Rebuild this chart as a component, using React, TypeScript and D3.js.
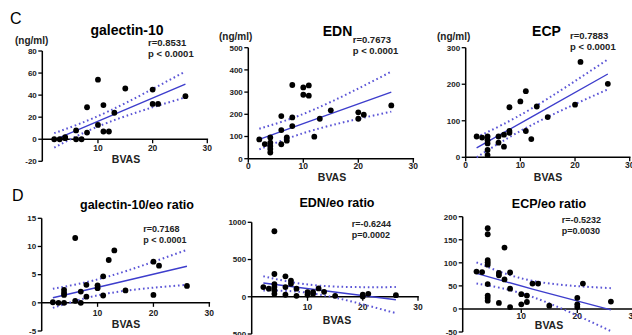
import * as d3 from "d3";
import { useEffect, useRef } from "react";

// BVAS vs marker values
const galBvas = [2, 3, 4, 4, 6, 6, 7, 8, 8, 10, 10, 11, 11, 12, 13, 15, 20, 20, 21, 26];
const galVals = [0, 0, 1, 2, 0, 8, 0, 6, 29, 54, 13, 31, 7, 7, 24, 46, 45, 32, 32, 39];

const ednBvas = [2, 3, 4, 4, 4, 4, 4, 6, 6, 6, 7, 7, 8, 8, 8, 10, 10, 11, 11, 12, 13, 15, 20, 20, 21, 26];
const ednVals = [87, 66, 96, 72, 57, 44, 28, 192, 129, 65, 96, 81, 332, 186, 147, 321, 288, 330, 284, 99, 180, 218, 209, 180, 198, 240];

const ecpBvas = [2, 3, 4, 4, 4, 4, 4, 6, 6, 7, 7, 8, 8, 8, 10, 11, 11, 12, 13, 15, 20, 21, 26];
const ecpVals = [57, 54, 57, 47, 38, 20, 6, 57, 40, 29, 62, 72, 67, 137, 153, 181, 72, 50, 139, 110, 144, 261, 201];

const galEoBvas = [2, 3, 4, 4, 4, 4, 6, 6, 7, 7, 8, 8, 10, 10, 11, 11, 12, 13, 15, 20, 20, 21, 26];
const galEoVals = [0.1, 0, 0, 1.4, 1.8, 2.3, 11.5, 0.35, 2.0, 0, 3.2, 1.1, 2.6, 3.1, 4.7, 1.3, 7.6, 9.3, 2.2, 7.3, 1.4, 6.6, 3.0];

const ednEoBvas = [2, 3, 4, 4, 4, 4, 4, 4, 6, 6, 6, 7, 7, 8, 8, 10, 10, 11, 11, 12, 13, 15, 20, 20, 21, 26];
const ednEoVals = [130, 108, 880, 306, 171, 130, 85, 40, 275, 130, 27, 216, 175, 108, 13, 63, 27, 63, 40, 112, 67, 13, 27, 5, 40, 22];

const ecpEoBvas = [2, 3, 4, 4, 4, 4, 4, 4, 4, 4, 4, 6, 6, 6, 7, 7, 8, 8, 8, 10, 10, 11, 11, 12, 13, 15, 20, 20, 20, 21, 26];
const ecpEoVals = [81, 80, 175, 162, 106, 101, 96, 54, 29, 24, 18, 78, 73, 13, 133, 64, 79, 44, 4, 32, 10, 29, 15, 55, 55, 7, 24, 10, 4, 55, 16];

// regression line and 95% band, read at these BVAS values
const bandBvas = [2, 12, 26];
const galFit = [-0.5, 20.5, 50];
const galUpper = [5.5, 25.5, 61.5];
const galLower = [-7.5, 15.5, 38];
const ednFit = [87, 176, 300];
const ednUpper = [135, 222, 392];
const ednLower = [42, 130, 212];
const ecpFit = [26, 110, 228];
const ecpUpper = [55, 133, 268];
const ecpLower = [0, 88, 186];
const galEoFit = [0.9, 3.2, 6.5];
const galEoUpper = [2.5, 4.7, 9.4];
const galEoLower = [-0.9, 1.7, 3.2];
const ednEoFit = [185, 91, -40];
const ednEoUpper = [275, 150, 130];
const ednEoLower = [85, 32, -220];
const ecpEoFit = [77, 43, -2];
const ecpEoUpper = [101, 61, 45];
const ecpEoLower = [55, 26, -48];

const galTicks = [-20, 0, 20, 40, 60, 80];
const ednTicks = [0, 100, 200, 300, 400, 500];
const ecpTicks = [0, 100, 200, 300];
const galEoTicks = [-5, 0, 5, 10, 15];
const ednEoTicks = [-500, 0, 500, 1000];
const ecpEoTicks = [-50, 0, 50, 100, 150, 200];

const titles = ["galectin-10", "EDN", "ECP", "galectin-10/eo ratio", "EDN/eo ratio", "ECP/eo ratio"];
const rTexts = ["r=0.8531", "r=0.7673", "r=0.7883", "r=0.7168", "r=-0.6244", "r=-0.5232"];
const pTexts = ["p < 0.0001", "p < 0.0001", "p < 0.0001", "p < 0.0001", "p=0.0002", "p=0.0030"];

interface Panel {
  title: string;
  r: string;
  p: string;
  xs: number[];
  ys: number[];
  fit: number[];
  upper: number[];
  lower: number[];
  yTicks: number[];
  xTicks: number[];
  unit?: string;
  // layout
  axisX: number;
  x0: number;
  x1: number;
  yTop: number;
  yBot: number;
  titleX: number;
  titleY: number;
  titleSize: number;
  statX: number;
  statY: number;
  statSize: number;
  unitX?: number;
  unitY?: number;
  xLabY: number;
  bvasX: number;
  bvasY: number;
}

const FONT = "'Liberation Sans', Arial, sans-serif";

const panels: Panel[] = [
  {
    title: titles[0], r: rTexts[0], p: pTexts[0], xs: galBvas, ys: galVals,
    fit: galFit, upper: galUpper, lower: galLower, yTicks: galTicks, xTicks: [10, 20, 30],
    unit: "(ng/ml)", axisX: 42.3, x0: 43.3, x1: 207.3, yTop: 51, yBot: 161.3,
    titleX: 127, titleY: 35, titleSize: 14, statX: 148, statY: 46, statSize: 9.5,
    unitX: 15, unitY: 44, xLabY: 151, bvasX: 126, bvasY: 163,
  },
  {
    title: titles[1], r: rTexts[1], p: pTexts[1], xs: ednBvas, ys: ednVals,
    fit: ednFit, upper: ednUpper, lower: ednLower, yTicks: ednTicks, xTicks: [0, 10, 20, 30],
    unit: "(ng/ml)", axisX: 248.3, x0: 248.3, x1: 413.3, yTop: 47.7, yBot: 158.7,
    titleX: 337.5, titleY: 36, titleSize: 14, statX: 352.7, statY: 43, statSize: 9.5,
    unitX: 219, unitY: 40, xLabY: 168.5, bvasX: 332, bvasY: 181,
  },
  {
    title: titles[2], r: rTexts[2], p: pTexts[2], xs: ecpBvas, ys: ecpVals,
    fit: ecpFit, upper: ecpUpper, lower: ecpLower, yTicks: ecpTicks, xTicks: [0, 10, 20, 30],
    unit: "(ng/ml)", axisX: 465.7, x0: 465.7, x1: 629.7, yTop: 47.7, yBot: 157.3,
    titleX: 546.5, titleY: 36, titleSize: 14, statX: 570, statY: 39, statSize: 9.5,
    unitX: 437, unitY: 40, xLabY: 168, bvasX: 548, bvasY: 181,
  },
  {
    title: titles[3], r: rTexts[3], p: pTexts[3], xs: galEoBvas, ys: galEoVals,
    fit: galEoFit, upper: galEoUpper, lower: galEoLower, yTicks: galEoTicks, xTicks: [10, 20, 30],
    axisX: 41.7, x0: 41.7, x1: 209.3, yTop: 218.3, yBot: 331,
    titleX: 137, titleY: 209, titleSize: 12.5, statX: 143.3, statY: 232, statSize: 9,
    xLabY: 316, bvasX: 126, bvasY: 328,
  },
  {
    title: titles[4], r: rTexts[4], p: pTexts[4], xs: ednEoBvas, ys: ednEoVals,
    fit: ednEoFit, upper: ednEoUpper, lower: ednEoLower, yTicks: ednEoTicks, xTicks: [10, 20, 30],
    axisX: 251.7, x0: 252.3, x1: 418, yTop: 222.3, yBot: 334,
    titleX: 337, titleY: 207, titleSize: 12.5, statX: 351.7, statY: 227, statSize: 9,
    xLabY: 310, bvasX: 337, bvasY: 324,
  },
  {
    title: titles[5], r: rTexts[5], p: pTexts[5], xs: ecpEoBvas, ys: ecpEoVals,
    fit: ecpEoFit, upper: ecpEoUpper, lower: ecpEoLower, yTicks: ecpEoTicks, xTicks: [10, 20, 30],
    axisX: 462.7, x0: 465.3, x1: 633.3, yTop: 216.7, yBot: 332,
    titleX: 549, titleY: 208, titleSize: 12.5, statX: 561.7, statY: 223, statSize: 9,
    xLabY: 319, bvasX: 549, bvasY: 329,
  },
];

function drawPanel(g: d3.Selection<SVGGElement, unknown, null, undefined>, p: Panel) {
  const x = d3.scaleLinear().domain([0, 30]).range([p.x0, p.x1]);
  const y = d3
    .scaleLinear()
    .domain([p.yTicks[0], p.yTicks[p.yTicks.length - 1]])
    .range([p.yBot, p.yTop]);

  // y axis
  g.append("line")
    .attr("x1", p.axisX).attr("x2", p.axisX)
    .attr("y1", y.range()[0]).attr("y2", y.range()[1])
    .attr("stroke", "#000").attr("stroke-width", 1.5);
  p.yTicks.forEach(t => {
    g.append("line")
      .attr("x1", p.axisX - 4).attr("x2", p.axisX)
      .attr("y1", y(t)).attr("y2", y(t))
      .attr("stroke", "#000").attr("stroke-width", 1.3);
    g.append("text")
      .attr("x", p.axisX - 5.5).attr("y", y(t)).attr("dy", "0.35em")
      .attr("text-anchor", "end").attr("font-size", 8).attr("font-weight", "bold")
      .attr("fill", "#222").text(String(t));
  });

  // x axis at y = 0
  const y0 = y(0);
  g.append("line")
    .attr("x1", p.axisX).attr("x2", x(30) + 0.8)
    .attr("y1", y0).attr("y2", y0)
    .attr("stroke", "#000").attr("stroke-width", 1.5);
  p.xTicks.forEach(t => {
    g.append("line")
      .attr("x1", x(t)).attr("x2", x(t))
      .attr("y1", y0).attr("y2", y0 + 4)
      .attr("stroke", "#000").attr("stroke-width", 1.3);
    g.append("text")
      .attr("x", x(t)).attr("y", p.xLabY)
      .attr("text-anchor", "middle").attr("font-size", 8.5).attr("font-weight", "bold")
      .attr("fill", "#222").text(String(t));
  });

  // confidence band (dotted) and fit line
  const line = d3.line<number>()
    .x((_, i) => x(bandBvas[i]))
    .y(d => y(d))
    .curve(d3.curveNatural);
  [p.upper, p.lower].forEach(band => {
    g.append("path")
      .attr("d", line(band) as string)
      .attr("fill", "none").attr("stroke", "#5b55d6")
      .attr("stroke-width", 2).attr("stroke-dasharray", "1.6,2.8");
  });
  g.append("path")
    .attr("d", line(p.fit) as string)
    .attr("fill", "none").attr("stroke", "#3d3dcc").attr("stroke-width", 1.4);

  // points
  g.selectAll("circle.pt")
    .data(p.xs)
    .enter()
    .append("circle")
    .attr("class", "pt")
    .attr("cx", d => x(d))
    .attr("cy", (_, i) => y(p.ys[i]))
    .attr("r", 2.9)
    .attr("fill", "#000");

  // texts
  g.append("text")
    .attr("x", p.titleX).attr("y", p.titleY)
    .attr("text-anchor", "middle").attr("font-size", p.titleSize).attr("font-weight", "bold")
    .text(p.title);
  g.append("text")
    .attr("x", p.statX).attr("y", p.statY)
    .attr("font-size", p.statSize).attr("font-weight", "bold").attr("fill", "#222")
    .text(p.r);
  g.append("text")
    .attr("x", p.statX).attr("y", p.statY + 11)
    .attr("font-size", p.statSize).attr("font-weight", "bold").attr("fill", "#222")
    .text(p.p);
  if (p.unit) {
    g.append("text")
      .attr("x", p.unitX as number).attr("y", p.unitY as number)
      .attr("font-size", 10).attr("font-weight", "bold").attr("fill", "#222")
      .text(p.unit);
  }
  g.append("text")
    .attr("x", p.bvasX).attr("y", p.bvasY)
    .attr("text-anchor", "middle").attr("font-size", 10.5).attr("font-weight", "bold")
    .attr("fill", "#222").text("BVAS");
}

export default function App() {
  const ref = useRef<SVGSVGElement | null>(null);

  useEffect(() => {
    document.body.style.margin = "0";
    const svg = d3.select(ref.current);
    svg.selectAll("*").remove();
    svg.append("rect").attr("width", 632).attr("height", 335).attr("fill", "#fff");

    const g = svg.append("g").attr("font-family", FONT);
    g.append("text").attr("x", 10).attr("y", 24).attr("font-size", 16).text("C");
    g.append("text").attr("x", 12).attr("y", 201).attr("font-size", 16).text("D");

    panels.forEach(p => drawPanel(g.append("g"), p));
  }, []);

  return (
    <svg
      ref={ref}
      width={632}
      height={335}
      viewBox="0 0 632 335"
      style={{ position: "absolute", left: 0, top: 0, display: "block" }}
    />
  );
}
